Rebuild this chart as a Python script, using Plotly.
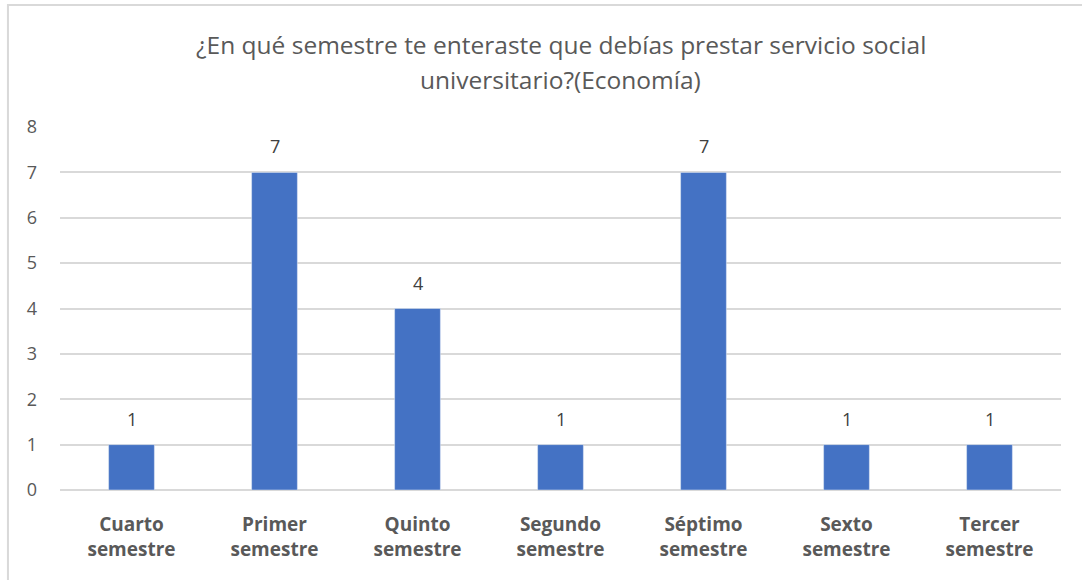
import plotly.graph_objects as go

categories = ["Cuarto<br>semestre", "Primer<br>semestre", "Quinto<br>semestre", "Segundo<br>semestre",
              "Séptimo<br>semestre", "Sexto<br>semestre", "Tercer<br>semestre"]
values = [1, 7, 4, 1, 7, 1, 1]
y_ticks = [0, 1, 2, 3, 4, 5, 6, 7, 8]
title_lines = ["¿En qué semestre te enteraste que debías prestar servicio social",
               "universitario?(Economía)"]

PLOT_TOP, PLOT_BOTTOM = 127, 490
PLOT_H = PLOT_BOTTOM - PLOT_TOP

fig = go.Figure()
fig.add_trace(go.Bar(
    x=categories, y=values,
    marker=dict(color="#4472C4"),
    cliponaxis=False,
))

annotations = []
for c, v in zip(categories, values):
    annotations.append(dict(x=c, y=v, xref="x", yref="y", text=str(v), showarrow=False,
                            yshift=26, yanchor="middle",
                            font=dict(size=18, color="#404040", family="Open Sans")))
for i, (line, py) in enumerate(zip(title_lines, [45, 80])):
    annotations.append(dict(x=0.5, y=(PLOT_BOTTOM - py) / PLOT_H, xref="paper", yref="paper",
                            text=line, showarrow=False, xanchor="center", yanchor="middle",
                            font=dict(size=24.5, color="#595959", family="Open Sans")))

fig.update_layout(
    width=1082, height=580,
    margin=dict(l=60, r=21, t=PLOT_TOP, b=580 - PLOT_BOTTOM),
    paper_bgcolor="white", plot_bgcolor="white",
    font=dict(family="Open Sans", color="#595959"),
    bargap=0.68,
    showlegend=False,
    xaxis=dict(tickfont=dict(size=19, color="#595959", family="Open Sans"),
               showgrid=False, showline=False, ticks="", tickprefix="<b>", ticksuffix="</b>",
               automargin=False, ticklabelstandoff=21),
    yaxis=dict(range=[0, 8], tickvals=y_ticks, showgrid=True, gridcolor="#D9D9D9", gridwidth=1.5,
               zeroline=True, zerolinecolor="#D9D9D9", zerolinewidth=1.5,
               tickfont=dict(size=18, color="#595959", family="Open Sans"), ticks="",
               showline=False, automargin=False, ticklabelstandoff=22),
    annotations=annotations,
    shapes=[dict(type="rect", xref="paper", yref="paper",
                 x0=-0.052, x1=1.1, y0=-0.4, y1=(PLOT_BOTTOM - 5) / PLOT_H,
                 line=dict(color="#D9D9D9", width=2), fillcolor="rgba(0,0,0,0)", layer="below")],
)

fig.write_html("out.html", config={"displayModeBar": False},
               post_script="document.body.style.margin='0';")
